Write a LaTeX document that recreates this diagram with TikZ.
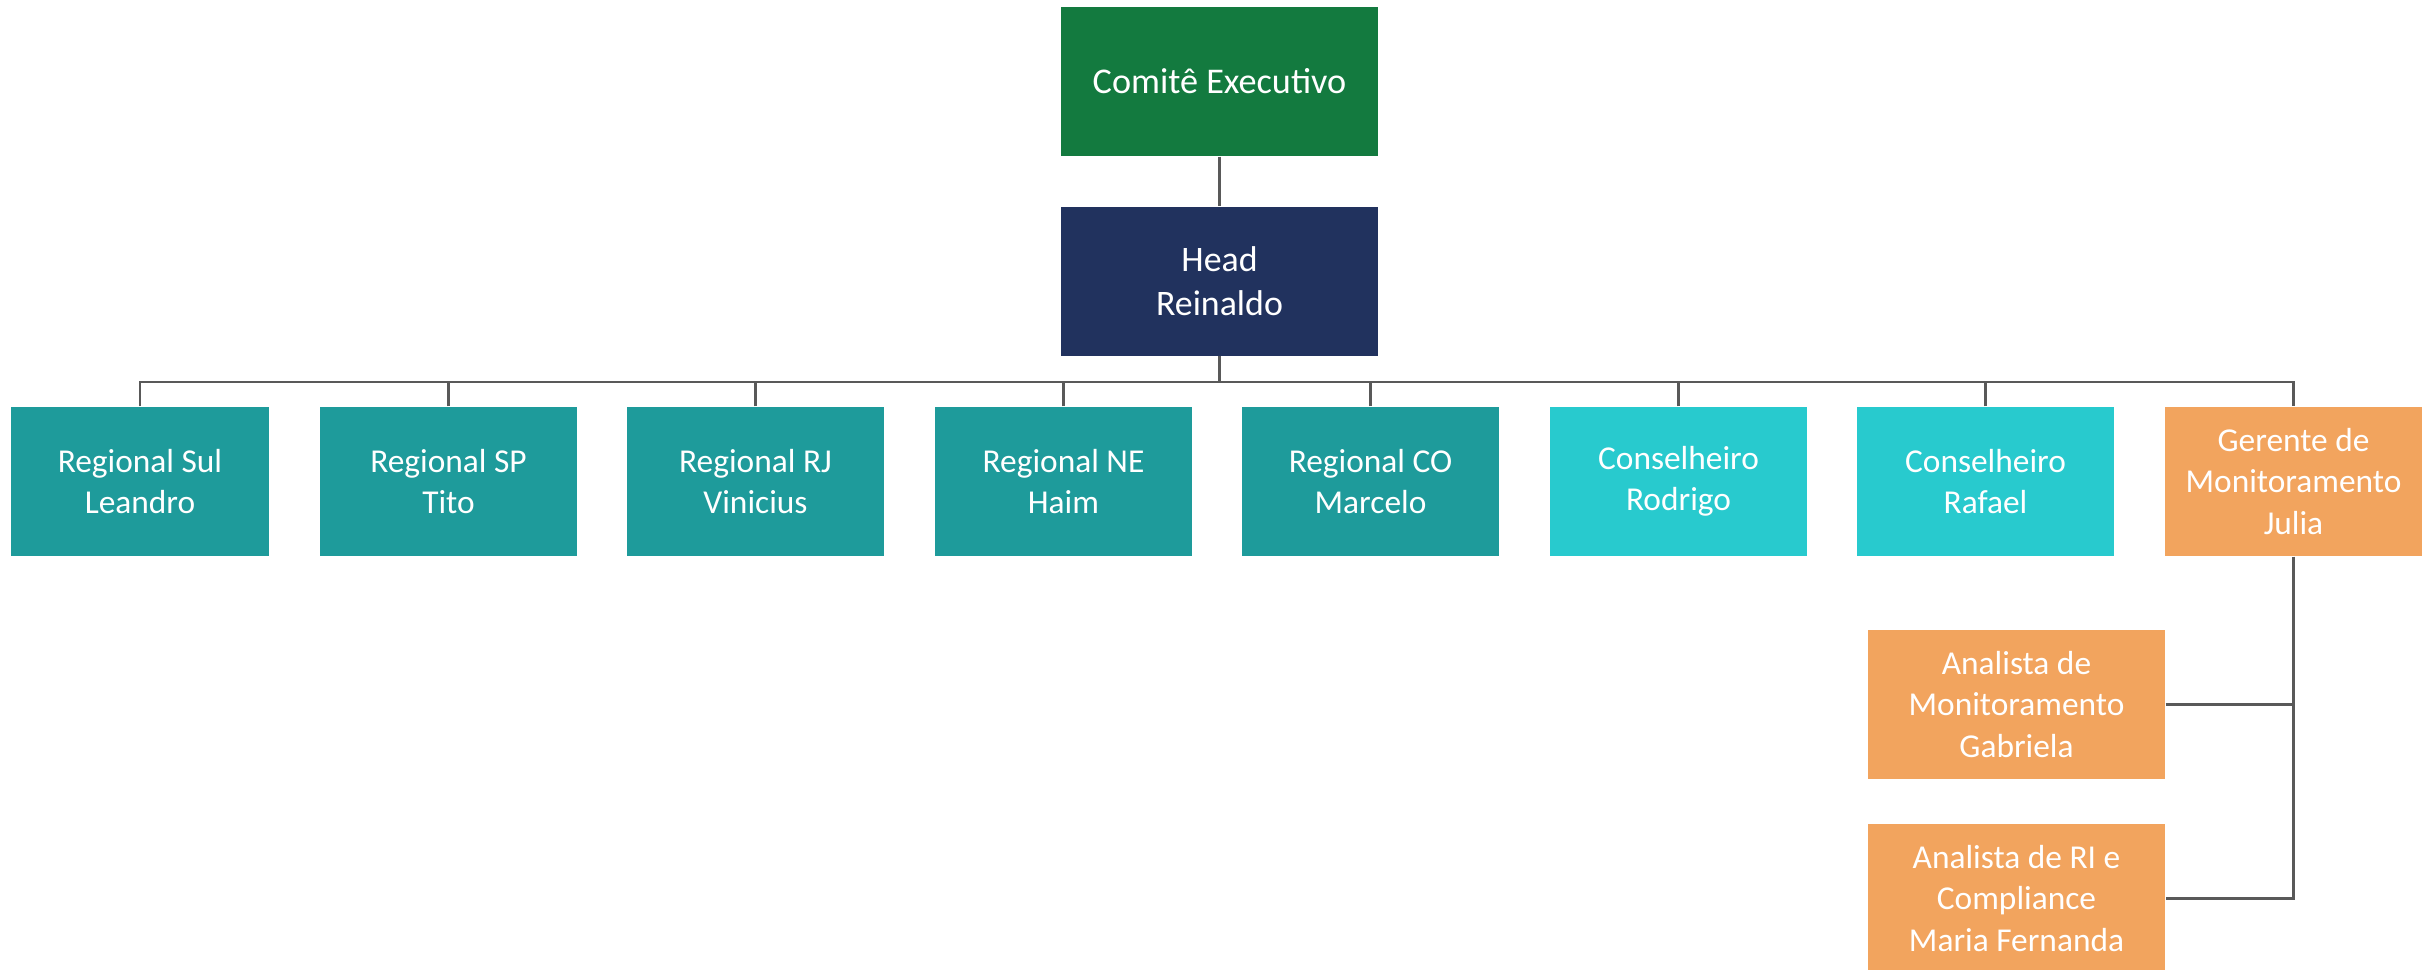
\documentclass[tikz,border=0pt]{standalone}
\usepackage{fontspec}
\setmainfont{Carlito}
\usepackage{tikz}

\definecolor{comgreen}{RGB}{19,122,63}
\definecolor{headblue}{RGB}{33,50,94}
\definecolor{regteal}{RGB}{30,155,155}
\definecolor{conscyan}{RGB}{40,202,206}
\definecolor{gerorange}{RGB}{242,164,94}
\definecolor{linegray}{RGB}{89,89,89}

\begin{document}
\begin{tikzpicture}[
    box/.style={inner sep=0pt, minimum width=2.57cm, minimum height=1.49cm, text=white, align=center, font=\fontsize{9.5}{11.7}\selectfont},
    wbox/.style={box, minimum width=3.17cm},
    abox/.style={box, minimum width=2.97cm, fill=gerorange},
    link/.style={draw=linegray, line width=0.6pt}]
    \useasboundingbox (0,0) rectangle (24.33cm,-9.69cm);
    \node[wbox, fill=comgreen, font=\fontsize{10.3}{12.5}\selectfont] (com) at (12.195cm,-0.815cm) {Comitê Executivo};
    \node[wbox, fill=headblue, font=\fontsize{10.2}{12.6}\selectfont] (head) at (12.195cm,-2.81cm) {Head\\Reinaldo};
    \node[box, fill=regteal] (sul) at (1.40cm,-4.815cm) {Regional Sul\\Leandro};
    \node[box, fill=regteal] (sp) at (4.485cm,-4.815cm) {Regional SP\\Tito};
    \node[box, fill=regteal] (rj) at (7.555cm,-4.815cm) {Regional RJ\\Vinicius};
    \node[box, fill=regteal] (ne) at (10.635cm,-4.815cm) {Regional NE\\Haim};
    \node[box, fill=regteal] (co) at (13.705cm,-4.815cm) {Regional CO\\Marcelo};
    \node[box, fill=conscyan] (rodrigo) at (16.785cm,-4.815cm) {Conselheiro\\Rodrigo};
    \node[box, fill=conscyan] (rafael) at (19.855cm,-4.815cm) {Conselheiro\\Rafael};
    \node[box, fill=gerorange] (ger) at (22.935cm,-4.815cm) {Gerente de\\Monitoramento\\Julia};
    \node[abox] (anamon) at (20.165cm,-7.045cm) {Analista de\\Monitoramento\\Gabriela};
    \node[abox] (anari) at (20.165cm,-8.985cm) {Analista de RI e\\Compliance\\Maria Fernanda};
    \coordinate (bus) at (0,-3.82cm);
    \draw[link] (com) -- (head);
    \draw[link] (head.south) -- (head.south |- bus);
    \draw[link] (sul.north) |- (ger.north |- bus) -- (ger.north);
    \draw[link] (sp.north) -- (sp.north |- bus);
    \draw[link] (rj.north) -- (rj.north |- bus);
    \draw[link] (ne.north) -- (ne.north |- bus);
    \draw[link] (co.north) -- (co.north |- bus);
    \draw[link] (rodrigo.north) -- (rodrigo.north |- bus);
    \draw[link] (rafael.north) -- (rafael.north |- bus);
    \draw[link] (ger.south) |- (anari.east);
    \draw[link] (anamon.east) -| (ger.south);
\end{tikzpicture}
\end{document}
